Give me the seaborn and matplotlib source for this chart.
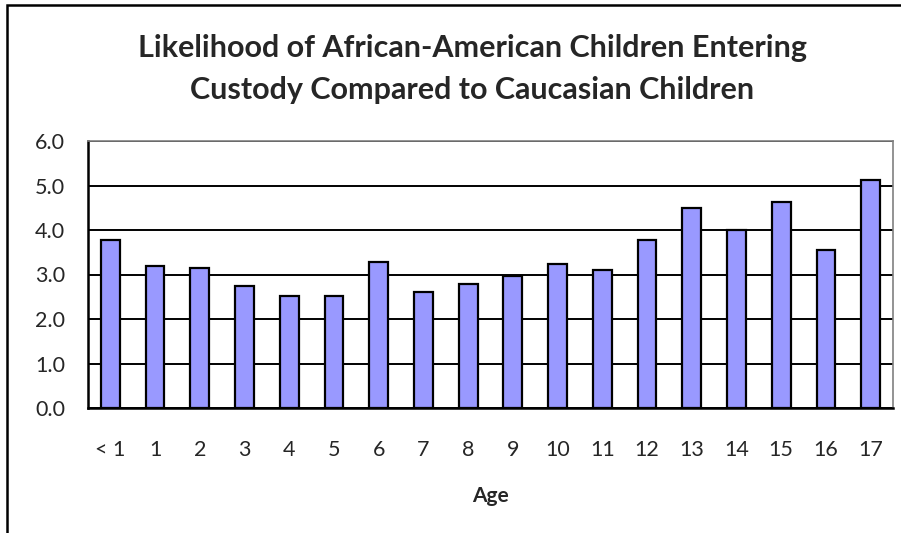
import matplotlib
matplotlib.use("Agg")
import matplotlib.pyplot as plt
import seaborn as sns
import pandas as pd
from matplotlib.patches import Rectangle

# Likelihood ratio by age group
ages = ["< 1", "1", "2", "3", "4", "5", "6", "7", "8", "9",
        "10", "11", "12", "13", "14", "15", "16", "17"]
likelihood = [3.78, 3.20, 3.15, 2.74, 2.52, 2.52, 3.28, 2.60, 2.78, 2.97,
              3.24, 3.11, 3.78, 4.50, 4.01, 4.64, 3.56, 5.13]
y_ticks = [0.0, 1.0, 2.0, 3.0, 4.0, 5.0, 6.0]

title = "Likelihood of African-American Children Entering\nCustody Compared to Caucasian Children"
x_label = "Age"

df = pd.DataFrame({"Age": ages, "Likelihood": likelihood})

sns.set_style("white")
plt.rcParams["font.family"] = ["Lato", "DejaVu Sans"]

W, H = 901, 533
fig = plt.figure(figsize=(W / 100, H / 100), dpi=100)
ax = fig.add_axes([88 / W, 1 - 408 / H, (893 - 88) / W, (408 - 141) / H])

sns.barplot(data=df, x="Age", y="Likelihood", ax=ax, color="#9999FF",
            saturation=1, width=0.42, edgecolor="black", linewidth=1.6,
            zorder=3)

ax.set_ylim(0, 6)
ax.set_xlim(-0.5, len(ages) - 0.5)
ax.set_yticks(y_ticks)
ax.set_yticklabels([f"{v:.1f}" for v in y_ticks], fontsize=15.5)
ax.yaxis.grid(True, color="black", linewidth=1.4, zorder=0)
ax.set_axisbelow(True)

# ticks sit between categories, labels at category centres
ax.set_xticks(range(len(ages)))
ax.set_xticklabels(ages, fontsize=15.5)
ax.set_xticks([i - 0.5 for i in range(len(ages) + 1)], minor=True)
ax.tick_params(axis="x", which="major", length=0, pad=23)
ax.tick_params(axis="x", which="minor", length=6, width=1.6, color="black",
               direction="out")
ax.tick_params(axis="y", which="major", length=6.5, width=1.6, color="black",
               direction="out", pad=10)

for side in ["left", "bottom"]:
    ax.spines[side].set_color("black")
    ax.spines[side].set_linewidth(1.8)
for side in ["top", "right"]:
    ax.spines[side].set_color("#808080")
    ax.spines[side].set_linewidth(1.2)

ax.set_ylabel("")
ax.set_xlabel(x_label, fontsize=15, fontweight="bold", labelpad=19)

fig.text(472 / W, 1 - 69 / H, title, ha="center", va="center",
         fontsize=22, fontweight="bold", linespacing=1.6)

# chart border
fig.patches.append(Rectangle((7 / W, -0.05), 1.2, 1 - 5 / H + 0.05,
                             transform=fig.transFigure, fill=False,
                             edgecolor="black", linewidth=1.8))

fig.savefig("out.png", dpi=100)
